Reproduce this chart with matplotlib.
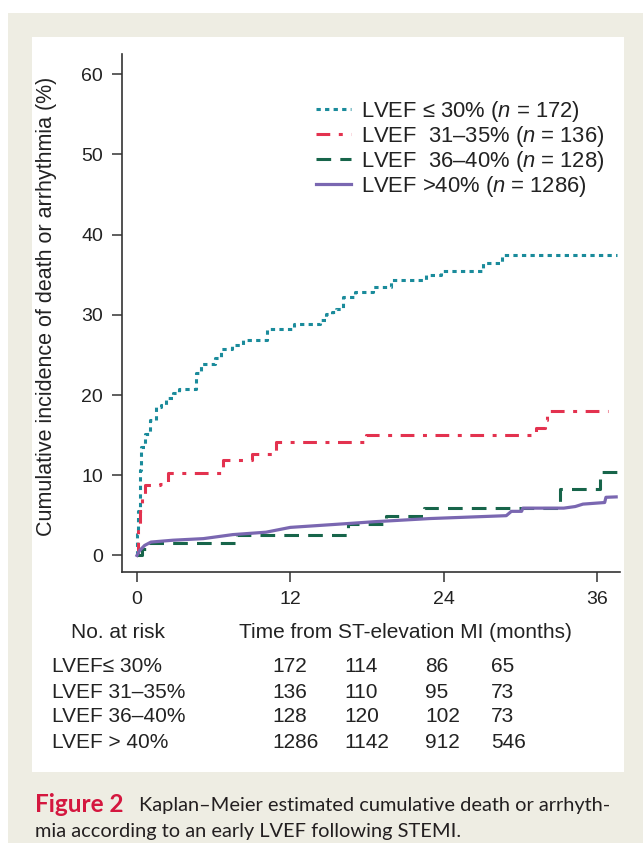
import matplotlib
matplotlib.use('agg')
import matplotlib.pyplot as plt
from matplotlib.patches import Rectangle

W, H = 643, 861

# curves: time (months), cumulative incidence (%)
lvef30_t = [0, 0.02, 0.08, 0.2, 0.35, 0.6, 1.0, 1.5, 1.9, 2.3, 2.8, 3.3, 4.6, 5.0, 6.1, 6.6, 7.4, 8.3,
            10.2, 12.3, 14.3, 14.8, 15.3, 15.6, 16.1, 17.1, 18.5, 19.9, 22.6, 23.8, 27.1, 28.6, 37.6]
lvef30_v = [0, 2.7, 5.6, 10.6, 13.5, 15.2, 16.9, 18.5, 18.8, 19.6, 20.2, 20.8, 22.7, 23.9, 24.6, 25.7, 26.2, 26.9,
            28.2, 28.8, 29.4, 30.1, 30.3, 30.7, 32.2, 32.8, 33.5, 34.3, 34.9, 35.5, 36.4, 37.4, 37.4]

lvef35_t = [0, 0.08, 0.2, 0.4, 0.6, 1.8, 2.4, 6.7, 9.0, 10.9, 17.9, 31.2, 31.9, 32.1, 36.9]
lvef35_v = [0, 3.1, 5.6, 7.7, 8.75, 8.9, 10.3, 11.9, 12.7, 14.2, 15.0, 15.9, 16.9, 18.0, 18.0]

lvef40_t = [0, 0.4, 0.9, 7.8, 16.5, 19.5, 22.5, 33.1, 36.2, 37.6]
lvef40_v = [0, 0.8, 1.6, 2.5, 3.9, 4.9, 5.9, 8.25, 10.45, 10.45]

lvefhi_t = [0, 0.2, 0.6, 1.1, 2.8, 5.2, 7.5, 10.1, 12.0, 16.7, 18.5, 22.9, 28.9, 29.3, 30.1, 30.2,
            33.4, 34.3, 34.9, 36.6, 36.7, 37.5]
lvefhi_v = [0, 0.6, 1.25, 1.67, 1.9, 2.1, 2.6, 2.9, 3.5, 4.0, 4.2, 4.6, 4.96, 5.5, 5.5, 5.9,
            5.9, 6.1, 6.4, 6.6, 7.25, 7.3]

legend_labels = ['LVEF \u2264 30% ($n$ = 172)', 'LVEF  31\u201335% ($n$ = 136)',
                 'LVEF  36\u201340% ($n$ = 128)', 'LVEF >40% ($n$ = 1286)']

risk_labels = ['LVEF\u2264 30%', 'LVEF 31\u201335%', 'LVEF 36\u201340%', 'LVEF > 40%']
risk_counts = [[172, 114, 86, 65],
               [136, 110, 95, 73],
               [128, 120, 102, 73],
               [1286, 1142, 912, 546]]

xticks = [0, 12, 24, 36]
yticks = [0, 10, 20, 30, 40, 50, 60]

plt.rcParams['font.family'] = ['Liberation Sans', 'DejaVu Sans']
plt.rcParams['mathtext.fontset'] = 'custom'
plt.rcParams['mathtext.rm'] = 'Liberation Sans'
plt.rcParams['mathtext.it'] = 'Liberation Sans:italic'


def fx(x):
    return x / W


def fy(y):
    return 1 - y / H


fig = plt.figure(figsize=(W / 100, H / 100), dpi=100)
fig.patch.set_facecolor('white')

# page frame: beige box with white inner panel
fig.patches.append(Rectangle((fx(8), fy(843)), fx(643) - fx(8), fy(13) - fy(843),
                             transform=fig.transFigure, facecolor='#eeede3', edgecolor='none', zorder=-10))
fig.patches.append(Rectangle((fx(32), fy(772)), fx(624) - fx(32), fy(37) - fy(772),
                             transform=fig.transFigure, facecolor='white', edgecolor='none', zorder=-9))

ax = fig.add_axes([fx(122), fy(572), fx(620) - fx(122), fy(54) - fy(572)])
ax.patch.set_alpha(0)

teal = '#1a8b9b'
red = '#e3324f'
green = '#17654a'
purple = '#7a67b1'

l1, = ax.plot(lvef30_t, lvef30_v, drawstyle='steps-post', color=teal, lw=2.2, dashes=(1.4, 1.4))
l2, = ax.plot(lvef35_t, lvef35_v, drawstyle='steps-post', color=red, lw=2.2, dashes=(4.5, 2.8, 1.3, 2.8))
l3, = ax.plot(lvef40_t, lvef40_v, drawstyle='steps-post', color=green, lw=2.2, dashes=(4.8, 3.0))
l4, = ax.plot(lvefhi_t, lvefhi_v, color=purple, lw=2.3)

ax.set_xlim(-1.17, 37.8)
ax.set_ylim(-2.06, 62.5)
ax.set_xticks(xticks)
ax.set_yticks(yticks)
for s in ['top', 'right']:
    ax.spines[s].set_visible(False)
for s in ['left', 'bottom']:
    ax.spines[s].set_color('#333333')
    ax.spines[s].set_linewidth(1.2)
ax.tick_params(direction='out', length=7.5, width=1.1, color='#333333', labelsize=14,
               labelcolor='#222222', pad=6)

leg = ax.legend([l1, l2, l3, l4], legend_labels, loc='upper left',
                bbox_to_anchor=(fx(307), fy(90)), bbox_transform=fig.transFigure,
                frameon=False, fontsize=15.8, handlelength=1.6, handletextpad=0.45, labelspacing=0.0,
                borderaxespad=0)
for t in leg.get_texts():
    t.set_color('#222222')

fig.text(fx(47), fy(306), 'Cumulative incidence of death or arrhythmia (%)', rotation=90,
         ha='center', va='center', fontsize=15.5, color='#222222')

fig.text(fx(118), fy(632), 'No. at risk', ha='center', va='center', fontsize=15, color='#222222')
fig.text(fx(405), fy(632), 'Time from ST-elevation MI (months)', ha='center', va='center',
         fontsize=15, color='#222222')

row_y = [667, 692, 717, 743]
col_x = [272, 344, 425, 491]
for i in range(len(risk_labels)):
    fig.text(fx(52), fy(row_y[i]), risk_labels[i], ha='left', va='center', fontsize=15, color='#222222')
    for j in range(len(col_x)):
        fig.text(fx(col_x[j]), fy(row_y[i]), str(risk_counts[i][j]), ha='left', va='center',
                 fontsize=15, color='#222222')

fig.text(fx(35), fy(805), 'Figure 2', ha='left', va='center', fontsize=17.5, fontweight='bold',
         color='#d4173f', family='Lato')
fig.text(fx(139), fy(806), 'Kaplan\u2013Meier estimated cumulative death or arrhyth-', ha='left',
         va='center', fontsize=14.4, color='#231f20', family='Lato')
fig.text(fx(35), fy(832), 'mia according to an early LVEF following STEMI.', ha='left',
         va='center', fontsize=14.4, color='#231f20', family='Lato')

fig.savefig('out.png', dpi=100)
